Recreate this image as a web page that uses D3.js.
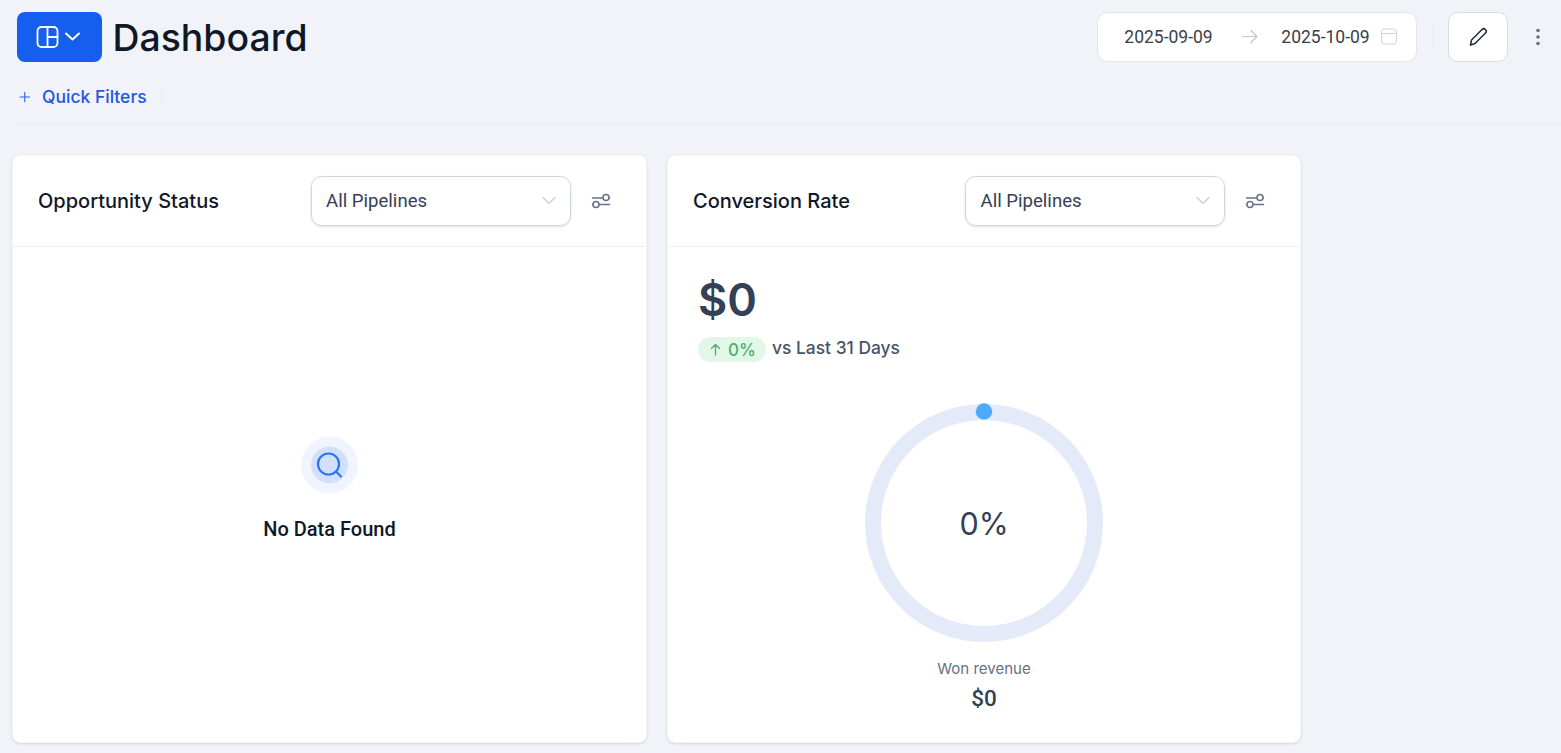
<!DOCTYPE html>
<html><head><meta charset="utf-8">
<script src="https://cdn.jsdelivr.net/npm/d3@7"></script>
<style>html,body{margin:0;padding:0;background:#f1f3f8;overflow:hidden}svg{display:block}text{font-family:Inter,sans-serif}</style>
</head><body><svg id="c" width="1561" height="753"></svg>
<script>
const pageTitle = "Dashboard";
const dateRange = ["2025-09-09", "2025-10-09"];
const filterLabel = "Quick Filters";
const cardTitles = ["Opportunity Status", "Conversion Rate"];
const pipelineLabel = "All Pipelines";
const emptyLabel = "No Data Found";
const conversionValues = [0];
const conversionMax = [100];
const wonRevenue = [0];
const changePercent = [0];
const compareLabel = "vs Last 31 Days";
const wonLabel = "Won revenue";

const svg = d3.select("#c");
const defs = svg.append("defs");
const f = defs.append("filter").attr("id","sh").attr("x","-5%").attr("y","-5%").attr("width","110%").attr("height","110%");
f.append("feDropShadow").attr("dx",0).attr("dy",1).attr("stdDeviation",1.5).attr("flood-color","#101828").attr("flood-opacity",0.16);
const f2 = defs.append("filter").attr("id","sh2").attr("x","-5%").attr("y","-10%").attr("width","110%").attr("height","125%");
f2.append("feDropShadow").attr("dx",0).attr("dy",1).attr("stdDeviation",1).attr("flood-color","#101828").attr("flood-opacity",0.12);

function rect(p,x,y,w,h,r,fill,stroke,filter){
  const e=p.append("rect").attr("x",x).attr("y",y).attr("width",w).attr("height",h).attr("rx",r).attr("fill",fill);
  if(stroke) e.attr("stroke",stroke).attr("stroke-width",1);
  if(filter) e.attr("filter",`url(#${filter})`);
  return e;
}
function text(p,x,y,s,size,weight,fill,anchor,family){
  const t=p.append("text").attr("x",x).attr("y",y).attr("font-size",size).attr("font-weight",weight).attr("fill",fill).attr("text-anchor",anchor||"start").text(s);
  if(family) t.style("font-family",family);
  return t;
}
function line(p,d,stroke,w){
  return p.append("path").attr("d",d).attr("fill","none").attr("stroke",stroke).attr("stroke-width",w).attr("stroke-linecap","round").attr("stroke-linejoin","round");
}

// Header
rect(svg,17,12,85,50,8,"#155eef");
const ic=svg.append("g");
rect(ic,37.5,27,20,20,4,"none").attr("stroke","#fff").attr("stroke-width",1.8);
line(ic,"M47.5 27V47M47.5 37H57.5","#fff",1.8);
line(ic,"M66 33.5L72.5 39.5L79 33.5","#fff",2);
text(svg,112.5,50.5,pageTitle,37.4,500,"#101828");
line(svg,"M20 97H29.5M24.75 92.2V101.8","#2a62e8",1.1);
text(svg,42,102.5,filterLabel,17.5,500,"#1f57e0");
svg.append("line").attr("x1",162).attr("x2",162).attr("y1",88).attr("y2",108).attr("stroke","#e8eaf0");
svg.append("line").attr("x1",17).attr("x2",1561).attr("y1",124.5).attr("y2",124.5).attr("stroke","#e9ebf1");

// Date range
rect(svg,1097.5,12.5,319,49,10,"#fff","#e2e5ec",null);
text(svg,1168.5,42.5,dateRange[0],17.5,400,"#3a3f48","middle","Roboto");
text(svg,1325.5,42.5,dateRange[1],17.5,400,"#3a3f48","middle","Roboto");
line(svg,"M1242 36.5H1257M1251 30.5L1257 36.5L1251 42.5","#c4c7cd",1.2);
rect(svg,1381.5,29,15,15,3,"none","#d0d3d9");
line(svg,"M1381.5 33.5H1396.5","#d0d3d9",1);
svg.append("line").attr("x1",1433).attr("x2",1433).attr("y1",22).attr("y2",52).attr("stroke","#e8eaf0");
rect(svg,1448.5,12.5,59,49,9,"#fff","#d8dbe3",null);
line(svg,"M1470.5 45L1471.5 40L1482 29.5C1483 28.5 1484.5 28.5 1485.5 29.5C1486.5 30.5 1486.5 32 1485.5 33L1475 43.5Z","#1d2939",1.5);
[30.5,37,43.5].forEach(y=>svg.append("circle").attr("cx",1538).attr("cy",y).attr("r",1.8).attr("fill","#667085"));

// Cards
const cards=[{x:12.5,w:634},{x:667.5,w:633}];
cards.forEach((c,i)=>{
  rect(svg,c.x,155.5,c.w,587,8,"#fff",null,"sh");
  svg.append("line").attr("x1",c.x).attr("x2",c.x+c.w).attr("y1",246.5).attr("y2",246.5).attr("stroke","#eceef3");
  text(svg,c.x+25.5,207.5,cardTitles[i],20,500,"#101828");
  const sx=i?965.5:311.5;
  rect(svg,sx,176.5,259,49,10,"#fff","#d0d5dd","sh2");
  text(svg,sx+(i?15:14.5),206.5,pipelineLabel,18.6,400,"#344054","start","Roboto");
  line(svg,`M${sx+231.5} 197.5L${sx+237.5} 203.5L${sx+243.5} 197.5`,"#c6c9cf",1.1);
  const ox=i?1255:601;
  line(svg,`M${ox-8.5} 204.5H${ox+8.5}M${ox-8.5} 198H${ox+8.5}`,"#667085",1.5);
  svg.append("circle").attr("cx",ox+5).attr("cy",197.5).attr("r",3).attr("fill","#fff").attr("stroke","#667085").attr("stroke-width",1.5);
  svg.append("circle").attr("cx",ox-5).attr("cy",204.5).attr("r",3).attr("fill","#fff").attr("stroke","#667085").attr("stroke-width",1.5);
});

// Empty state
const ec=svg.append("g").attr("transform","translate(329.5,465)");
ec.append("circle").attr("r",28.5).attr("fill","#eff4ff");
ec.append("circle").attr("r",18.5).attr("fill","#d1e0ff");
ec.append("circle").attr("cx",-1).attr("cy",-1).attr("r",10.5).attr("fill","none").attr("stroke","#2e73f5").attr("stroke-width",2.2);
line(ec,"M7 7L11.5 11.5","#2e73f5",2.2);
text(svg,329.5,535.5,emptyLabel,20,500,"#101828","middle","Roboto");

// KPI
const fmt=d3.format("$,.0f");
text(svg,698,316,fmt(wonRevenue[0]),45,600,"#344054");
rect(svg,698,337,68,25,12.5,"#e3f7e8");
line(svg,"M715.5 355V344.5M711.5 348.5L715.5 344.5L719.5 348.5","#4caf6a",1.3);
text(svg,728,355.5,`${changePercent[0]}%`,17,500,"#4caf6a");
text(svg,772,353.5,compareLabel,17.4,500,"#475467");

// Gauge
const cx=984, cy=523, rOuter=119, rInner=103;
const angle=d3.scaleLinear().domain([0,conversionMax[0]]).range([0,2*Math.PI]);
const arc=d3.arc().innerRadius(rInner).outerRadius(rOuter);
const g=svg.append("g").attr("transform",`translate(${cx},${cy})`);
g.append("path").attr("d",arc({startAngle:0,endAngle:2*Math.PI})).attr("fill","#e5eaf8");
g.selectAll("path.v").data(conversionValues).join("path").attr("class","v")
  .attr("d",d=>arc({startAngle:0,endAngle:angle(d)})).attr("fill","#4dabff");
g.selectAll("circle.v").data(conversionValues).join("circle").attr("class","v")
  .attr("cx",d=>d3.pointRadial(angle(d),(rInner+rOuter)/2)[0])
  .attr("cy",d=>d3.pointRadial(angle(d),(rInner+rOuter)/2)[1]-0.5)
  .attr("r",8.2).attr("fill","#4dabff");
text(svg,984,535,`${conversionValues[0]}%`,30.5,400,"#344054","middle");
text(svg,984,674,wonLabel,15,400,"#667085","middle");
text(svg,984,706,fmt(wonRevenue[0]),22.5,500,"#344054","middle","Roboto");
</script></body></html>
